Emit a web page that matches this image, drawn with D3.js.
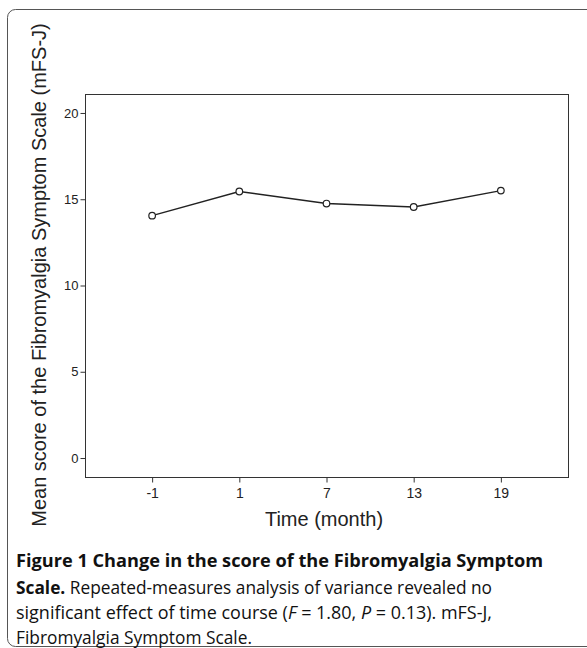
<!DOCTYPE html>
<html>
<head>
<meta charset="utf-8">
<script src="https://cdn.jsdelivr.net/npm/d3@7"></script>
<style>
  html, body { margin: 0; padding: 0; background: #fff; }
  svg { display: block; }
  .axis text { font-family: 'Liberation Sans', Arial, sans-serif; fill: #222; }
  .axis line { stroke: #333; }
  .caption { font-family: 'Open Sans', sans-serif; font-size: 18px; fill: #111; }
</style>
</head>
<body>
<div id="chart"></div>
<script>
// data
const months = ['-1', '1', '7', '13', '19'];
const meanScores = [14.05, 15.45, 14.75, 14.55, 15.5];
const yTicks = [0, 5, 10, 15, 20];

const W = 587, H = 648;
const margin = { top: 94, right: 19, bottom: 171, left: 85 };
const width = W - margin.left - margin.right;
const height = H - margin.top - margin.bottom;

const svg = d3.select('#chart')
    .append('svg')
    .attr('width', W)
    .attr('height', H);

// outer rounded frame
svg.append('rect')
    .attr('x', 7.5).attr('y', 9.5)
    .attr('width', 600).attr('height', 637)
    .attr('rx', 8).attr('ry', 8)
    .attr('fill', 'none')
    .attr('stroke', '#555')
    .attr('stroke-width', 1);

const g = svg.append('g')
    .attr('transform', 'translate(' + margin.left + ',' + margin.top + ')');

const x = d3.scalePoint()
    .domain(months)
    .range([0, width])
    .padding(0.77);

const y = d3.scaleLinear()
    .domain([-1.1, 21.1])
    .range([height, 0]);

// plot box
g.append('rect')
    .attr('x', 0.5).attr('y', 0.5)
    .attr('width', width).attr('height', height)
    .attr('fill', 'none')
    .attr('stroke', '#333')
    .attr('stroke-width', 1);

// y axis
const yAxis = g.append('g')
    .attr('class', 'axis')
    .attr('transform', 'translate(0.5,0)')
    .call(d3.axisLeft(y).tickValues(yTicks).tickSize(5).tickPadding(2));
yAxis.select('.domain').remove();
yAxis.selectAll('text').style('font-size', '13px');

// x axis
const xAxis = g.append('g')
    .attr('class', 'axis')
    .attr('transform', 'translate(0,' + (height + 0.5) + ')')
    .call(d3.axisBottom(x).tickSize(5).tickPadding(6));
xAxis.select('.domain').remove();
xAxis.selectAll('text').style('font-size', '14px');

// axis titles
svg.append('text')
    .attr('transform', 'translate(46,275) rotate(-90)')
    .attr('text-anchor', 'middle')
    .style('font-family', "'Liberation Sans', Arial, sans-serif")
    .style('font-size', '20px')
    .attr('fill', '#222')
    .text('Mean score of the Fibromyalgia Symptom Scale (mFS-J)');

svg.append('text')
    .attr('x', 324).attr('y', 526)
    .attr('text-anchor', 'middle')
    .style('font-family', "'Liberation Sans', Arial, sans-serif")
    .style('font-size', '20px')
    .attr('fill', '#222')
    .text('Time (month)');

// line + open circle markers
const line = d3.line()
    .x((d, i) => x(months[i]))
    .y(d => y(d));

g.append('path')
    .datum(meanScores)
    .attr('fill', 'none')
    .attr('stroke', '#222')
    .attr('stroke-width', 1.4)
    .attr('d', line);

g.selectAll('circle.pt')
    .data(meanScores)
    .enter()
    .append('circle')
    .attr('class', 'pt')
    .attr('cx', (d, i) => x(months[i]))
    .attr('cy', d => y(d))
    .attr('r', 3.3)
    .attr('fill', '#fff')
    .attr('stroke', '#222')
    .attr('stroke-width', 1.2);

// caption (line widths fitted to the figure's text block)
const cap = svg.append('g').attr('class', 'caption');

cap.append('text')
    .attr('x', 16).attr('y', 567)
    .attr('textLength', 527).attr('lengthAdjust', 'spacingAndGlyphs')
    .style('font-weight', 'bold')
    .text('Figure 1 Change in the score of the Fibromyalgia Symptom');

const l2 = cap.append('text').attr('x', 16).attr('y', 593.5)
    .attr('textLength', 476).attr('lengthAdjust', 'spacingAndGlyphs');
l2.append('tspan').style('font-weight', 'bold').text('Scale.');
l2.append('tspan').text(' Repeated-measures analysis of variance revealed no');

const l3 = cap.append('text').attr('x', 16).attr('y', 619)
    .attr('textLength', 476).attr('lengthAdjust', 'spacingAndGlyphs');
l3.append('tspan').text('significant effect of time course (');
l3.append('tspan').style('font-style', 'italic').text('F');
l3.append('tspan').text(' = 1.80, ');
l3.append('tspan').style('font-style', 'italic').text('P');
l3.append('tspan').text(' = 0.13). mFS-J,');

cap.append('text')
    .attr('x', 16).attr('y', 644)
    .attr('textLength', 236).attr('lengthAdjust', 'spacingAndGlyphs')
    .text('Fibromyalgia Symptom Scale.');
</script>
</body>
</html>
